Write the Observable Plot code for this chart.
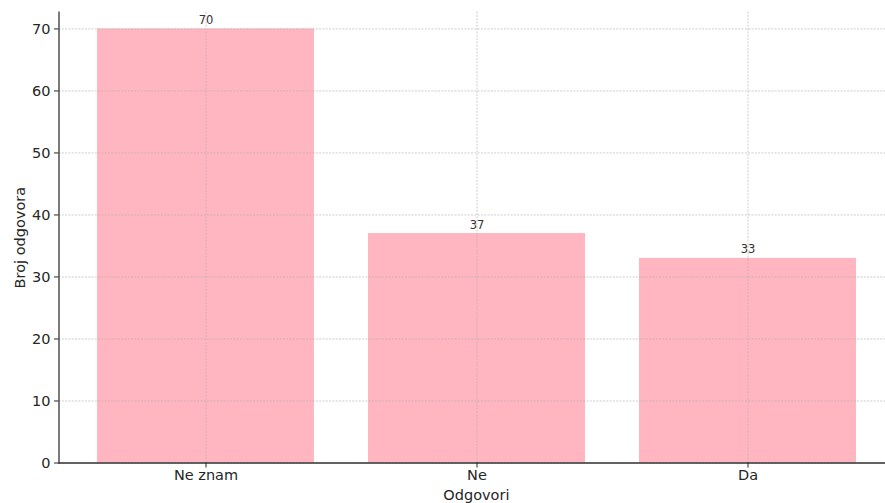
<!DOCTYPE html>
<html>
<head>
<meta charset="utf-8">
<script src="https://cdn.jsdelivr.net/npm/d3@7"></script>
<script src="https://cdn.jsdelivr.net/npm/@observablehq/plot@0.6"></script>
<style>
  html, body { margin: 0; padding: 0; background: white; overflow: hidden; }
</style>
</head>
<body>
<div id="chart"></div>
<script>
const categories = ["Ne znam", "Ne", "Da"];
const counts = [70, 37, 33];
const yTicks = [0, 10, 20, 30, 40, 50, 60, 70];
const xLabel = "Odgovori";
const yLabel = "Broj odgovora";

const data = categories.map((c, i) => ({category: c, count: counts[i]}));
const font = "DejaVu Sans, sans-serif";
const gridStyle = {stroke: "#b0b0b0", strokeWidth: 0.8, strokeDasharray: "2,1.3", strokeOpacity: 0.8};

const chart = Plot.plot({
  width: 885,
  height: 503,
  marginLeft: 58.5,
  marginRight: -8.3,
  marginTop: 11.7,
  marginBottom: 40.5,
  style: {fontFamily: font, background: "white", color: "#262626"},
  x: {domain: categories, paddingInner: 0.2, paddingOuter: 0.14, align: 0.5, label: null},
  y: {domain: [0, 72.7], label: null},
  marks: [
    Plot.barY(data, {x: "category", y: "count", fill: "#FFB6C1"}),
    Plot.gridY(yTicks, gridStyle),
    Plot.gridX(categories, gridStyle),
    Plot.text(data, {x: "category", y: "count", text: d => String(d.count), dy: -5, lineAnchor: "bottom", fontSize: 11.5, fill: "#333"}),
    Plot.ruleY([0], {stroke: "#333", strokeWidth: 1.3}),
    Plot.frame({anchor: "left", stroke: "#333", strokeWidth: 1.3}),
    Plot.axisY({ticks: yTicks, tickSize: 4.5, tickPadding: 4, fontSize: 14.5, label: yLabel, labelAnchor: "center", labelArrow: "none", labelOffset: 44}),
    Plot.axisX({tickSize: 5, tickPadding: 2, fontSize: 14.5, label: xLabel, labelAnchor: "center", labelArrow: "none", labelOffset: 37})
  ]
});
document.getElementById("chart").appendChild(chart);
</script>
</body>
</html>
